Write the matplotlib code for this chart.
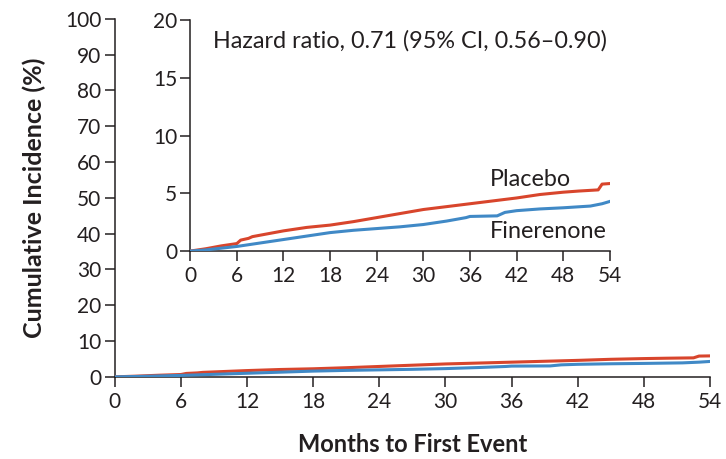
import matplotlib
matplotlib.use("Agg")
import matplotlib.pyplot as plt

plt.rcParams['font.family'] = ['Lato', 'DejaVu Sans']

# months / cumulative incidence (%)
months_placebo = [0, 2, 4, 6, 6.5, 7.5, 8, 10, 12, 15, 18, 21, 24, 27, 30, 33, 36, 39, 42, 45, 48, 50, 52.5, 53, 54]
placebo = [0, 0.2, 0.45, 0.65, 0.95, 1.1, 1.25, 1.5, 1.75, 2.05, 2.25, 2.55, 2.9, 3.25, 3.6, 3.85, 4.1, 4.35, 4.6, 4.9, 5.1, 5.2, 5.3, 5.8, 5.85]
months_finerenone = [0, 2, 4, 6, 8, 10, 12, 15, 18, 21, 24, 27, 30, 33, 35.5, 36, 39.5, 40.5, 42, 45, 48, 51.5, 53, 54]
finerenone = [0, 0.1, 0.25, 0.4, 0.6, 0.8, 1.0, 1.3, 1.6, 1.8, 1.95, 2.1, 2.3, 2.6, 2.9, 3.0, 3.05, 3.35, 3.5, 3.65, 3.75, 3.9, 4.1, 4.3]

x_ticks = [0, 6, 12, 18, 24, 30, 36, 42, 48, 54]
main_y_ticks = [0, 10, 20, 30, 40, 50, 60, 70, 80, 90, 100]
inset_y_ticks = [0, 5, 10, 15, 20]

red = '#d8452c'
blue = '#4089c6'
ink = '#231f20'

fig = plt.figure(figsize=(7.26, 4.59), dpi=100)
ax = fig.add_axes([0.158, 0.179, 0.820, 0.780])
ins = fig.add_axes([0.262, 0.453, 0.578, 0.503])


def style(a, yticks):
    for s in ('top', 'right'):
        a.spines[s].set_visible(False)
    for s in ('left', 'bottom'):
        a.spines[s].set_color(ink)
        a.spines[s].set_linewidth(1.1)
    a.set_xlim(0, 54)
    a.set_ylim(yticks[0], yticks[-1])
    a.set_xticks(x_ticks)
    a.set_yticks(yticks)
    a.tick_params(direction='out', length=7, width=1.1, color=ink,
                  labelcolor=ink, labelsize=15, pad=2.5)
    a.tick_params(axis='x', pad=4)
    a.patch.set_alpha(0)


for a, yt in ((ax, main_y_ticks), (ins, inset_y_ticks)):
    style(a, yt)
    a.plot(months_placebo, placebo, color=red, lw=2.2, zorder=3)
    a.plot(months_finerenone, finerenone, color=blue, lw=2.2, zorder=3)

ax.set_xlabel('Months to First Event', fontsize=17, fontweight='bold', color=ink, labelpad=15)
ax.set_ylabel('Cumulative Incidence (%)', fontsize=18, fontweight='bold', color=ink, labelpad=14)

ins.text(2.9, 18.2, 'Hazard ratio, 0.71 (95% CI, 0.56\u20130.90)', fontsize=16.8, color=ink, va='center')
ins.text(38.5, 6.2, 'Placebo', fontsize=16.8, color=ink, va='center')
ins.text(38.5, 1.7, 'Finerenone', fontsize=16.8, color=ink, va='center')

fig.savefig('out.png', dpi=100)
